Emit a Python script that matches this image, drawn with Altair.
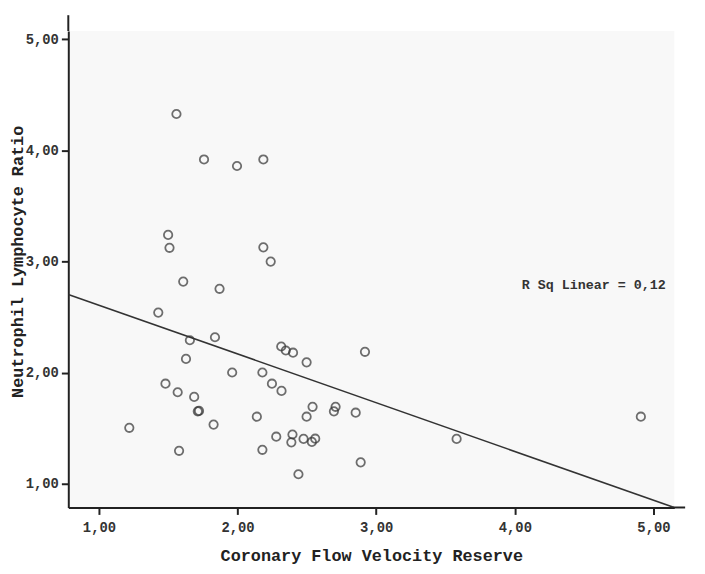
import altair as alt
import pandas as pd

# Coronary Flow Velocity Reserve (x) and Neutrophil Lymphocyte Ratio (y)
cfvr = [1.559, 1.758, 1.996, 2.186, 1.499, 1.509, 2.186, 2.239, 1.608, 1.870,
        1.428, 1.656, 1.837, 1.628, 2.315, 2.348, 2.400, 2.498, 1.961, 2.179,
        1.480, 2.248, 1.568, 2.317, 1.687, 1.713, 1.722, 1.827, 2.139, 2.541,
        2.498, 2.707, 2.695, 2.852, 1.219, 2.396, 2.279, 2.388, 2.476, 2.560,
        2.536, 1.578, 2.179, 2.439, 2.919, 2.888, 3.580, 4.909]
nlr = [4.328, 3.919, 3.860, 3.919, 3.240, 3.124, 3.128, 3.000, 2.820, 2.755,
       2.541, 2.292, 2.319, 2.124, 2.236, 2.200, 2.180, 2.093, 2.002, 2.002,
       1.901, 1.901, 1.824, 1.836, 1.782, 1.652, 1.656, 1.533, 1.604, 1.693,
       1.604, 1.693, 1.652, 1.640, 1.504, 1.444, 1.424, 1.373, 1.404, 1.406,
       1.377, 1.297, 1.306, 1.086, 2.188, 1.193, 1.404, 1.604]

# Linear fit
fit_intercept = 3.046
fit_slope = -0.4387
r_sq_label = "R Sq Linear = 0,12"

x_domain = [0.779, 5.15]
y_domain = [0.787, 5.075]
ticks = [1, 2, 3, 4, 5]

pts = pd.DataFrame({"x": cfvr, "y": nlr})
fit = pd.DataFrame({"x": x_domain,
                    "y": [fit_intercept + fit_slope * v for v in x_domain]})
lab = pd.DataFrame({"x": [4.05], "y": [2.79], "t": [r_sq_label]})

FONT = "Liberation Mono"
lbl_expr = "replace(format(datum.value, '.2f'), '.', ',')"

xs = alt.Scale(domain=x_domain, nice=False, zero=False)
ys = alt.Scale(domain=y_domain, nice=False, zero=False)

xax = alt.Axis(values=ticks, labelExpr=lbl_expr, grid=False, labelPadding=6,
               title="Coronary Flow Velocity Reserve", titlePadding=14)
yax = alt.Axis(values=ticks, labelExpr=lbl_expr, grid=False, labelPadding=3,
               title="Neutrophil Lymphocyte Ratio",
               titleX=-51, titleY=233, titleAngle=-90, titleAlign="center",
               titleBaseline="middle")

points = alt.Chart(pts).mark_point(
    shape="circle", filled=False, size=72, stroke="#333333", strokeWidth=1.8
).encode(
    x=alt.X("x:Q", scale=xs, axis=xax),
    y=alt.Y("y:Q", scale=ys, axis=yax),
)

line = alt.Chart(fit).mark_line(color="#333333", strokeWidth=1.6, clip=True).encode(
    x=alt.X("x:Q", scale=xs),
    y=alt.Y("y:Q", scale=ys),
)

text = alt.Chart(lab).mark_text(
    align="left", baseline="middle", font=FONT, fontSize=13.5, fontWeight="bold",
    color="#333333"
).encode(
    x=alt.X("x:Q", scale=xs),
    y=alt.Y("y:Q", scale=ys),
    text="t:N",
)

# axis line extensions beyond the shaded area (SPSS style)
yext = alt.Chart(pd.DataFrame({"a": [0]})).mark_rule(color="#222222", strokeWidth=2).encode(
    x=alt.value(0), y=alt.value(-16), y2=alt.value(0))
xext = alt.Chart(pd.DataFrame({"a": [0]})).mark_rule(color="#222222", strokeWidth=2).encode(
    x=alt.value(612), x2=alt.value(624), y=alt.value(482))

chart = alt.layer(line, points, text, yext, xext).properties(
    width=613, height=482,
    autosize=alt.AutoSizeParams(type="none"),
    padding={"left": 61, "top": 20, "right": 23, "bottom": 64},
    background="white",
).configure_view(
    fill="#f8f8f8", stroke=None
).configure_axis(
    domainColor="#222222", domainWidth=2,
    tickColor="#222222", tickWidth=2, tickSize=7,
    labelFont=FONT, labelFontSize=14, labelFontWeight="bold", labelColor="#333333",
    titleFont=FONT, titleFontSize=17, titleFontWeight="bold", titleColor="#222222",
)

chart.save("out.html", embed_options={"renderer": "svg", "actions": False})
